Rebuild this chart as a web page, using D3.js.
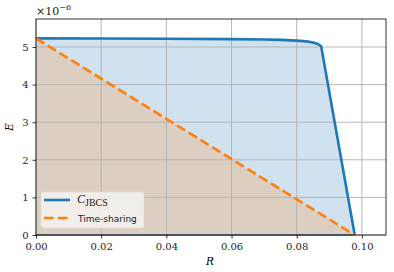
<!DOCTYPE html>
<html><head><meta charset="utf-8">
<script src="https://cdn.jsdelivr.net/npm/d3@7"></script>
<style>body{margin:0;background:#fff}svg{display:block}</style>
</head><body><div id="c"></div>
<script>
const jbcsR = [0, 0.02, 0.04, 0.06, 0.07, 0.075, 0.08, 0.083, 0.085, 0.0865, 0.0875, 0.0978];
const jbcsE = [5.23, 5.225, 5.22, 5.21, 5.20, 5.19, 5.17, 5.15, 5.12, 5.08, 5.02, 0];
const tsR = [0, 0.0978];
const tsE = [5.23, 0];
const xTicks = [0, 0.02, 0.04, 0.06, 0.08, 0.10];
const yTicks = [0, 1, 2, 3, 4, 5];

const W = 394, H = 272;
const m = {l: 36, r: 8, t: 19, b: 37};
const svg = d3.select("#c").append("svg").attr("width", W).attr("height", H);
const x = d3.scaleLinear().domain([0, 0.1074]).range([m.l, W - m.r]);
const y = d3.scaleLinear().domain([0, 5.745]).range([H - m.b, m.t]);
const serif = "'DejaVu Serif', serif";

const jb = jbcsR.map((r, i) => [r, jbcsE[i]]);
const ts = tsR.map((r, i) => [r, tsE[i]]);

// fills
const area = d3.area().x(d => x(d[0])).y0(y(0)).y1(d => y(d[1]));
svg.append("path").attr("d", area(jb)).attr("fill", "#d0e2ef");
svg.append("path").attr("d", area(ts)).attr("fill", "#dccfc2");

// grid
const g = svg.append("g");
xTicks.forEach(t => g.append("line").attr("x1", x(t)).attr("x2", x(t)).attr("y1", y.range()[0]).attr("y2", y.range()[1]).attr("stroke", "#b0b0b0").attr("stroke-width", 0.9));
yTicks.forEach(t => g.append("line").attr("y1", y(t)).attr("y2", y(t)).attr("x1", x.range()[0]).attr("x2", x.range()[1]).attr("stroke", "#b0b0b0").attr("stroke-width", 0.9));

// lines
const lin = d3.line().x(d => x(d[0])).y(d => y(d[1]));
svg.append("path").attr("d", lin([[0,0],[0.0978,0]])).attr("stroke", "#1f4f7a").attr("stroke-width", 1.2).attr("fill", "none");
svg.append("path").attr("d", lin(jb)).attr("stroke", "#1f77b4").attr("stroke-width", 2.6).attr("fill", "none").attr("stroke-linejoin", "round");
svg.append("path").attr("d", lin(ts)).attr("stroke", "#ff7f0e").attr("stroke-width", 2.6).attr("fill", "none").attr("stroke-dasharray", "9.6,4.2");

// axes
const xa = svg.append("g").attr("transform", `translate(0,${H - m.b})`).call(d3.axisBottom(x).tickValues(xTicks).tickFormat(d3.format(".2f")).tickSize(3.5).tickPadding(4));
const ya = svg.append("g").attr("transform", `translate(${m.l},0)`).call(d3.axisLeft(y).tickValues(yTicks).tickFormat(d3.format("d")).tickSize(3.5).tickPadding(4));
[xa, ya].forEach(a => {
  a.select(".domain").remove();
  a.selectAll("text").attr("font-family", serif).attr("font-size", 10).attr("fill", "#222");
  a.selectAll("line").attr("stroke", "#000").attr("stroke-width", 0.8);
});
svg.append("rect").attr("x", m.l).attr("y", m.t).attr("width", W - m.l - m.r).attr("height", H - m.t - m.b).attr("fill", "none").attr("stroke", "#000").attr("stroke-width", 0.8);

// offset text
const off = svg.append("text").attr("x", m.l).attr("y", 15).attr("font-family", serif).attr("font-size", 11).attr("fill", "#222");
off.append("tspan").text("×10");
off.append("tspan").attr("dy", -5).attr("font-size", 8).text("−6");

// axis labels
svg.append("text").attr("x", x(0.0534)).attr("y", 265).attr("text-anchor", "middle").attr("font-family", serif).attr("font-style", "italic").attr("font-size", 10.5).text("R");
svg.append("text").attr("transform", `translate(13,${y(2.87)}) rotate(-90)`).attr("text-anchor", "middle").attr("font-family", serif).attr("font-style", "italic").attr("font-size", 10.5).text("E");

// legend
const lg = svg.append("g");
lg.append("rect").attr("x", 41).attr("y", 192).attr("width", 103).attr("height", 36).attr("rx", 2.5).attr("fill", "#f5f3f1").attr("fill-opacity", 0.85).attr("stroke", "#dddddd").attr("stroke-width", 0.8);
lg.append("line").attr("x1", 44).attr("x2", 70).attr("y1", 200).attr("y2", 200).attr("stroke", "#1f77b4").attr("stroke-width", 2.6);
lg.append("line").attr("x1", 44).attr("x2", 70).attr("y1", 218).attr("y2", 218).attr("stroke", "#ff7f0e").attr("stroke-width", 2.6).attr("stroke-dasharray", "9.6,4.2");
const t1 = lg.append("text").attr("x", 77).attr("y", 203).attr("fill", "#222");
t1.append("tspan").attr("font-size", 12).attr("font-family", "'Liberation Serif', serif").attr("font-style", "italic").text("C");
t1.append("tspan").attr("font-size", 10).attr("dy", 3).attr("font-family", "'Liberation Serif', serif").text("JBCS");
lg.append("text").attr("x", 78).attr("y", 221.5).attr("font-family", "'DejaVu Sans', sans-serif").attr("font-size", 9).attr("fill", "#222").text("Time-sharing");
</script></body></html>
